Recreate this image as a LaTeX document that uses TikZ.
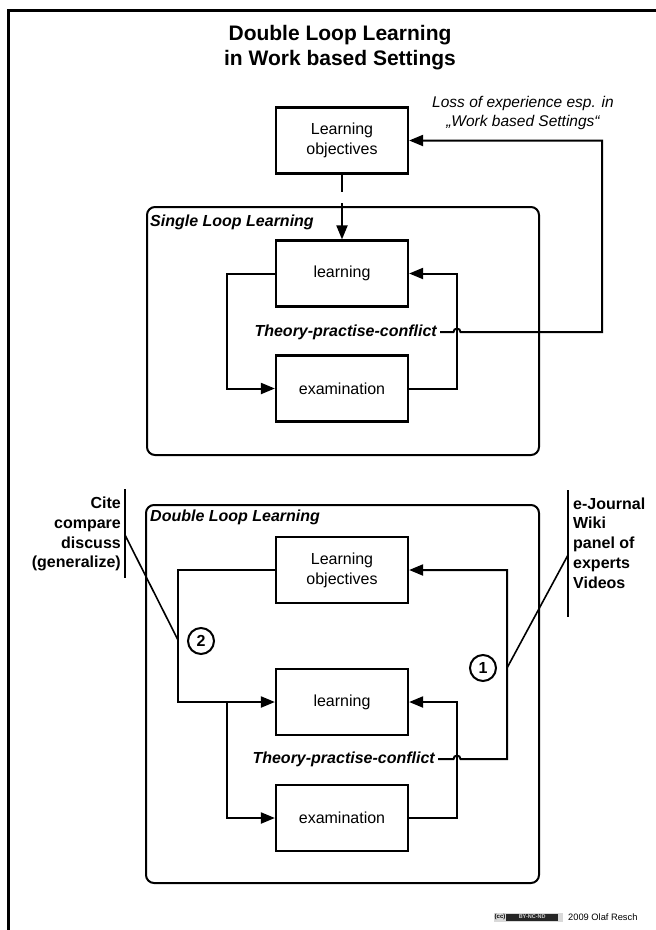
\documentclass[tikz,border=0pt]{standalone}
\usepackage{fontspec}
\setmainfont{Liberation Sans}
\usetikzlibrary{arrows.meta}
\begin{document}
\begin{tikzpicture}[x=1pt,y=-1pt,
  box/.style={draw,line width=2.2pt,minimum width=132pt,minimum height=66pt,inner sep=0pt,
    font=\fontsize{16}{20}\selectfont,align=center},
  conn/.style={line width=2pt},
  arr/.style={line width=2pt,-{Triangle[length=14pt,width=11pt]}},
  loopframe/.style={draw,line width=2pt,rounded corners=8pt},
  framelabel/.style={anchor=west,inner sep=0pt,font=\fontsize{16}{20}\selectfont\bfseries\itshape},
  conflict/.style={anchor=east,inner sep=3pt,font=\fontsize{16}{20}\selectfont\bfseries\itshape},
  numcirc/.style={circle,draw,line width=2pt,minimum size=26pt,inner sep=0pt,font=\fontsize{16}{16}\selectfont\bfseries},
  annot/.style={inner sep=0pt,font=\fontsize{16}{19.8}\selectfont\bfseries},
  bar/.style={line width=2pt}
]
\useasboundingbox (0,0) rectangle (656,930);
% outer frame
\draw[line width=3pt] (656,10) -- (8.5,10) -- (8.5,930);

% title
\node[align=center,inner sep=0pt,font=\fontsize{21}{25}\selectfont\bfseries] (title) at (340,48)
  {Double Loop Learning\\in Work based Settings};

% ---------- Single loop ----------
\node[box] (LO1) at (342,140.5) {Learning\\objectives};
\node[inner sep=0pt,align=center,font=\fontsize{15.5}{19}\selectfont\itshape] (loss) at (523,112.5)
  {Loss of experience esp. in\\„Work based Settings“};
\draw[loopframe] (147,207) rectangle (539,455);
\node[framelabel] (slabel) at (150,222) {Single Loop Learning};
\node[box] (L1) at (342,273.5) {learning};
\node[box] (E1) at (342,388.5) {examination};
\node[conflict] (T1) at (440,332) {Theory-practise-conflict};

\coordinate (gapA) at (342,192);
\coordinate (gapB) at (342,203);
\draw[conn] (LO1.south) -- (gapA);
\draw[arr] (gapB) -- (L1.north);
\draw[arr] (L1.west) -- (227,273.5) -- (227,388.5) -- (E1.west);
\draw[arr] (E1.east) -- (457,388.5) -- (457,273.5) -- (L1.east);
\draw[arr] (T1.east) -- (453.5,332) .. controls (453.5,327.5) and (460.5,327.5) .. (460.5,332)
  -- (602,332) |- (LO1.east);

% ---------- Double loop ----------
\draw[loopframe] (146,505) rectangle (539,883);
\node[framelabel] (dlabel) at (150,517) {Double Loop Learning};
\node[box] (LO2) at (342,570) {Learning\\objectives};
\node[box] (L2) at (342,702) {learning};
\node[box] (E2) at (342,818) {examination};
\node[conflict] (T2) at (438,759) {Theory-practise-conflict};

\coordinate (lj) at (227,702);
\draw[arr] (LO2.west) -- (178,570) -- (178,702) -- (L2.west);
\draw[arr] (lj) -- (227,818) -- (E2.west);
\draw[arr] (E2.east) -- (457,818) -- (457,702) -- (L2.east);
\draw[arr] (T2.east) -- (453.5,759) .. controls (453.5,754.5) and (460.5,754.5) .. (460.5,759)
  -- (507,759) |- (LO2.east);

\node[numcirc] (c2) at (201,641) {2};
\node[numcirc] (c1) at (483,668) {1};

% annotations
\coordinate (barLtop) at (125,489);
\coordinate (barLbot) at (125,578);
\draw[bar] (barLtop) -- (barLbot);
\node[annot,align=right,anchor=east] (cite) at (121,534)
  {Cite\\compare\\discuss\\(generalize)};
\coordinate (citeA) at (125,535);
\coordinate (citeB) at (178,640);
\draw[conn,line width=1.6pt] (citeA) -- (citeB);

\coordinate (barRtop) at (568,490);
\coordinate (barRbot) at (568,617);
\draw[bar] (barRtop) -- (barRbot);
\node[annot,align=left,anchor=west] (ejour) at (573,543)
  {e-Journal\\Wiki\\panel of\\experts\\Videos};
\coordinate (ejA) at (568,555);
\coordinate (ejB) at (507,668);
\draw[conn,line width=1.6pt] (ejA) -- (ejB);

% credit badge
\node[fill=gray!30,minimum height=9pt,minimum width=69pt,inner sep=0pt,anchor=west] (badge) at (494,917) {};
\node[fill=black!85,minimum height=7pt,minimum width=52pt,inner sep=0pt,text=gray!35,
  font=\fontsize{5.5}{6}\selectfont\bfseries,anchor=west] (byncnd) at (506,917) {BY-NC-ND};
\node[inner sep=0pt,font=\fontsize{6}{6}\selectfont\bfseries] (cc) at (500,917) {(cc)};
\node[anchor=west,inner sep=0pt,font=\fontsize{9.3}{10}\selectfont] (credit) at (568,917) {2009 Olaf Resch};
\end{tikzpicture}
\end{document}
